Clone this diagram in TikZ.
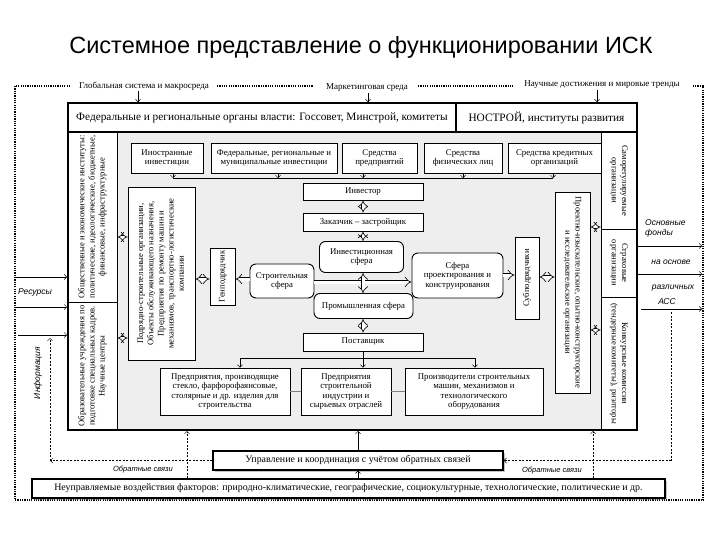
\documentclass[tikz,border=0pt]{standalone}
\usepackage{fontspec}
\usepackage{graphicx}
\setmainfont{Liberation Serif}
\newfontfamily\ttlfont{Liberation Sans}
\newfontfamily\itsans{Liberation Sans}
\usetikzlibrary{arrows.meta,shadows}
\newcommand\fsz[2]{\fontsize{#1}{#2}\selectfont}
\newcommand\vtxt[2]{\rotatebox{#1}{\begin{tabular}{@{}c@{}}#2\end{tabular}}}
\begin{document}
\begin{tikzpicture}[x=1pt,y=-1pt,
  box/.style={draw, line width=0.9pt, fill=white, inner sep=1pt, align=center, font=\fsz{8.8}{9.6}},
  rbox/.style={box, rounded corners=6pt},
  vbox/.style={box, font=\fsz{8.6}{10.2}},
  arr/.style={line width=0.5pt, -{Straight Barb[length=2.5pt,width=5pt]}},
  hol/.style={double=white, double distance=3pt, line width=0.6pt, {Implies[length=2.6pt,width=9pt]}-{Implies[length=2.6pt,width=9pt]}},
  holr/.style={double=white, double distance=3pt, line width=0.6pt, -{Implies[length=3pt,width=9pt]}},
  dsh/.style={line width=0.5pt, dash pattern=on 2pt off 1.5pt},
  frm/.style={line width=1.4pt, dash pattern=on 1.2pt off 1.1pt},
  lab/.style={font=\fsz{9}{10}, inner sep=1pt},
  ilab/.style={font=\itsans\itshape\fsz{8.5}{10}, inner sep=1pt, align=left},
  shd/.style={drop shadow={shadow xshift=1.5pt, shadow yshift=-1.5pt, opacity=0.45}},
]
\useasboundingbox (0,0) rectangle (720,540);

% title
\node[font=\ttlfont\fsz{23.5}{26}] (title) at (361,47) {Системное представление о функционировании ИСК};

% top labels
\node[lab] (lbl1) at (144,86) {Глобальная система и макросреда};
\node[lab] (lbl2) at (367,88) {Маркетинговая среда};
\node[lab] (lbl3) at (602,85) {Научные достижения и мировые тренды};

% outer dotted frame
\coordinate (TL) at (15,86);
\coordinate (TR) at (703,86);
\coordinate (BL) at (15,500);
\coordinate (BR) at (703,500);
\draw[frm] (70,86) -- (TL) -- (BL) -- (BR) -- (TR) -- (693,86);
\draw[frm] (217,86) -- (313,86);
\draw[frm] (418,86) -- (513,86);

% gray interior
\fill[gray!13] (117,132) rectangle (601,430);

% top row
\node[box, shd, line width=1.6pt, font=\fsz{11.3}{13}, minimum width=388pt, minimum height=29pt] (fed) at (262,117.5) {Федеральные и региональные органы власти: Госсовет, Минстрой, комитеты};
\node[box, line width=1.6pt, font=\fsz{11.3}{13}, minimum width=181pt, minimum height=29pt] (nos) at (546.5,117.5) {НОСТРОЙ, институты развития};

% left column
\node[vbox, minimum width=49pt, minimum height=170pt] (leftA) at (92.5,217) {\vtxt{90}{Общественные и экономические институты:\\политические, идеологические, бюджетные,\\финансовые, инфраструктурные}};
\node[vbox, minimum width=49pt, minimum height=128pt] (leftB) at (92.5,366) {\vtxt{90}{Образовательные учреждения по\\подготовке специальных кадров.\\Научные центры}};

% right column
\node[vbox, minimum width=36pt, minimum height=97pt] (samo) at (619,180.5) {\vtxt{-90}{Саморегулируемые\\организации}};
\node[vbox, minimum width=36pt, minimum height=68pt] (strakh) at (619,263) {\vtxt{-90}{Страховые\\организации}};
\node[vbox, minimum width=36pt, minimum height=133pt] (konk) at (619,363.5) {\vtxt{-90}{Конкурсные комиссии\\(тендерные комитеты), риэлторы}};

% investment sources
\node[box, minimum width=72pt, minimum height=30pt] (inostr) at (167,158) {Иностранные\\инвестиции};
\node[box, minimum width=126pt, minimum height=30pt] (fedinv) at (274,158) {Федеральные, региональные и\\муниципальные инвестиции};
\node[box, minimum width=75pt, minimum height=30pt] (sredpr) at (379.5,158) {Средства\\предприятий};
\node[box, minimum width=78pt, minimum height=30pt] (sredfiz) at (463,158) {Средства\\физических лиц};
\node[box, minimum width=93pt, minimum height=30pt] (sredkr) at (554.5,158) {Средства кредитных\\организаций};

% central chain
\node[box, minimum width=120pt, minimum height=17pt] (investor) at (363,191.5) {Инвестор};
\node[box, minimum width=120pt, minimum height=18pt] (zakaz) at (363,222) {Заказчик – застройщик};
\node[rbox, minimum width=84pt, minimum height=31pt] (investsf) at (361.5,257) {Инвестиционная\\сфера};
\node[rbox, minimum width=64pt, minimum height=34pt] (stroysf) at (282,281) {Строительная\\сфера};
\node[rbox, minimum width=91pt, minimum height=45pt] (proektsf) at (457.5,275.5) {Сфера\\проектирования и\\конструирования};
\node[rbox, minimum width=99pt, minimum height=25pt] (promsf) at (363.5,306) {Промышленная сфера};
\node[box, minimum width=120pt, minimum height=18pt] (postav) at (363,342) {Поставщик};

% vertical boxes inside
\node[vbox, minimum width=25pt, minimum height=57pt] (genpod) at (222.5,276.5) {\vtxt{90}{Генподрядчик}};
\node[vbox, minimum width=24pt, minimum height=82pt] (subpod) at (527,278) {\vtxt{90}{Субподрядчики}};
\node[vbox, minimum width=67pt, minimum height=173pt] (podryad) at (161.5,273.5) {\vtxt{90}{Подрядно-строительные организации,\\Объекты обслуживающего назначения,\\Предприятия по ремонту машин и\\механизмов, транспортно-логистические\\компании}};
\node[vbox, minimum width=35pt, minimum height=201pt] (proizysk) at (572.5,292.5) {\vtxt{-90}{Проектно-изыскательские, опытно-конструкторские\\и исследовательские организации}};

% bottom row
\node[box, minimum width=130pt, minimum height=47pt] (b1) at (225,391.5) {Предприятия, производящие\\стекло, фарфорофаянсовые,\\столярные и др. изделия для\\строительства};
\node[box, minimum width=90pt, minimum height=47pt] (b2) at (346,391.5) {Предприятия\\строительной\\индустрии и\\сырьевых отраслей};
\node[box, minimum width=138pt, minimum height=47pt] (b3) at (474,391.5) {Производители строительных\\машин, механизмов и\\технологического\\оборудования};

% main frame
\node[draw, line width=2pt, minimum width=569pt, minimum height=327pt, inner sep=0pt] (main) at (352.5,266.5) {};

% bottom boxes
\node[box, shd, line width=1.4pt, font=\fsz{9.9}{11}, minimum width=290pt, minimum height=19pt] (upravl) at (358,460.5) {Управление и координация с учётом обратных связей};
\node[box, shd, line width=1.4pt, font=\fsz{9.9}{11}, minimum width=633pt, minimum height=19pt] (neupr) at (348.5,488.5) {Неуправляемые воздействия факторов: природно-климатические, географические, социокультурные, технологические, политические и др.};

% top label arrows
\draw[arr] ([xshift=-6pt]lbl1.south) -- ([xshift=-6pt]lbl1.south |- fed.north);
\draw[arr] ([xshift=1pt]lbl2.south) -- ([xshift=1pt]lbl2.south |- fed.north);
\draw[arr] ([xshift=-5pt]lbl3.south) -- ([xshift=-5pt]lbl3.south |- fed.north);

% investments collector line
\coordinate (hl) at (0,178);
\draw[arr] ([xshift=6pt]inostr.south) -- ([xshift=6pt]inostr.south |- hl);
\draw[arr] ([xshift=4pt]fedinv.south) -- ([xshift=4pt]fedinv.south |- hl);
\draw[arr] (sredpr.south -| investor.north) -- (investor.north |- hl);
\draw[arr] (sredfiz.south) -- (sredfiz.south |- hl);
\draw[arr] ([xshift=-1.5pt]sredkr.south) -- ([xshift=-1.5pt]sredkr.south |- hl);
\draw[line width=0.5pt] ([xshift=6pt]inostr.south |- hl) -- ([xshift=-1.5pt]sredkr.south |- hl);

% supplier lines
\coordinate (bl) at (0,358);
\draw[arr] (postav.south) -- (postav.south |- b2.north);
\draw[line width=0.5pt] ([xshift=15pt]b1.north |- bl) -- ([xshift=1pt]b3.north |- bl);
\draw[arr] ([xshift=15pt]b1.north |- bl) -- ([xshift=15pt]b1.north);
\draw[arr] ([xshift=1pt]b3.north |- bl) -- ([xshift=1pt]b3.north);
\draw[gray, line width=0.8pt] (b1.east) -- (b2.west);
\draw[gray, line width=0.8pt] (b2.east) -- (b3.west);

% hollow arrows
\coordinate (y227) at (0,227);
\coordinate (y237) at (0,237);
\coordinate (y275) at (0,275);
\coordinate (y277) at (0,277);
\coordinate (y279) at (0,279);
\coordinate (y282) at (0,282);
\coordinate (y330) at (0,330);
\coordinate (y338) at (0,338);
\draw[hol] (leftA.east |- y237) -- (podryad.west |- y237);
\draw[hol] (leftB.east |- y338) -- (podryad.west |- y338);
\draw[hol] (podryad.east |- y279) -- (genpod.west |- y279);
\draw[holr] (stroysf.west |- y279) -- (genpod.east |- y279);
\draw[holr] (stroysf.east |- y282) -- (proektsf.west |- y282);
\draw[hol] (investsf.south -| investor.south) -- (investor.south |- promsf.north);
\draw[hol] (investor.south) -- (zakaz.north);
\draw[hol] (zakaz.south) -- (zakaz.south |- investsf.north);
\draw[hol] (promsf.south -| postav.north) -- (postav.north);
\draw[holr] (proektsf.east |- y275) -- (subpod.west |- y275);
\draw[hol] (subpod.east |- y277) -- (proizysk.west |- y277);
\draw[hol] (proizysk.east |- y227) -- (samo.west |- y227);
\draw[hol] (proizysk.east |- y330) -- (konk.west |- y330);

% left inputs
\coordinate (r1) at (15,277);
\coordinate (r2) at (15,307);
\coordinate (r3) at (18,335);
\draw[arr] (r1) -- (r1 -| main.west);
\draw[arr] (r2) -- (r2 -| main.west);
\draw[arr] (r3) -- (r3 -| main.west);
\node[ilab] (res) at (35,292) {Ресурсы};
\node[ilab, rotate=90] (info) at (38,373) {Информация};

% right outputs
\coordinate (o1) at (702,246);
\coordinate (o2) at (702,274);
\coordinate (o3) at (702,309);
\draw[arr] (o1 -| main.east) -- (o1);
\draw[arr] (o2 -| main.east) -- (o2);
\draw[arr] ([xshift=3pt]o3 -| main.east) -- (o3);
\node[ilab, anchor=west] (osn) at (644,228) {Основные\\фонды};
\node[ilab] (naosn) at (671,262) {на основе};
\node[ilab] (razl) at (673,288) {различных};
\node[ilab] (acc) at (667,302) {АСС};

% feedback
\coordinate (infoTop) at (50,338);
\coordinate (fbR) at (671,312);
\coordinate (fv1) at (187,0);
\coordinate (fv2) at (593,0);
\draw[dsh, arr] (upravl.west) -- (upravl.west -| infoTop);
\draw[dsh, arr] (upravl.west -| infoTop) -- (infoTop);
\draw[dsh] (fbR) -- (fbR |- upravl.east);
\draw[dsh, arr] (fbR |- upravl.east) -- (upravl.east);
\draw[dsh, arr] (neupr.north -| fv1) -- (main.south -| fv1);
\draw[dsh, arr] (neupr.north -| fv2) -- (main.south -| fv2);
\draw[arr] (upravl.south |- neupr.north) -- (upravl.south);
\draw[arr] (upravl.north) -- (upravl.north |- main.south);
\node[ilab, font=\itsans\itshape\fsz{7.5}{9}] (fb1) at (143,470) {Обратные связи};
\node[ilab, font=\itsans\itshape\fsz{7.5}{9}] (fb2) at (552,471) {Обратные связи};
\end{tikzpicture}
\end{document}
